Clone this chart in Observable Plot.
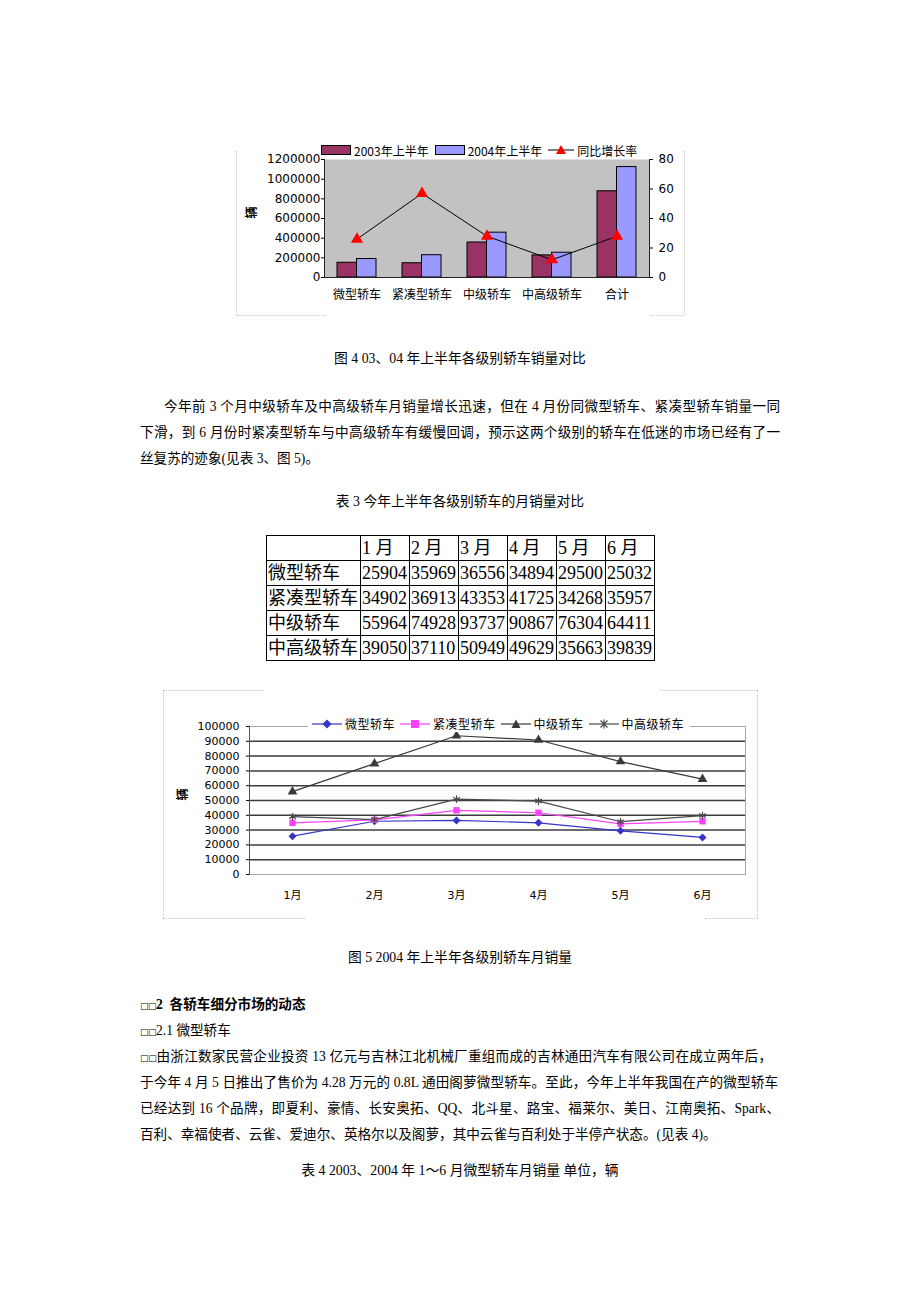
<!DOCTYPE html>
<html><head><meta charset="utf-8">
<script src="https://cdn.jsdelivr.net/npm/d3@7"></script>
<script src="https://cdn.jsdelivr.net/npm/@observablehq/plot@0.6"></script>
<style>
html,body{margin:0;padding:0;background:#fff;}
body{width:920px;height:1302px;position:relative;overflow:hidden;font-family:"Liberation Serif","Noto Sans CJK SC",serif;font-size:14px;color:#000;}
.abs{position:absolute;}
.cap{position:absolute;left:0;width:920px;text-align:center;line-height:20px;white-space:nowrap;font-size:13.8px;}
.ln{position:absolute;left:140px;width:640px;white-space:nowrap;text-align:justify;text-align-last:justify;line-height:20px;font-size:13.6px;}
.ln.last{text-align-last:left;}
.bx{font-family:"DejaVu Sans",sans-serif;font-size:9px;letter-spacing:-0.5px;}
.dotv{position:absolute;width:0;border-left:1px dotted #c4c4c4;}
.doth{position:absolute;height:0;border-top:1px dotted #c4c4c4;}
table.t3{position:absolute;left:266px;top:535px;border-collapse:collapse;table-layout:fixed;width:388px;font-size:18px;font-family:"Liberation Serif","Noto Sans CJK SC",serif;}
table.t3 td{border:1.5px solid #000;height:24px;line-height:24px;padding:0 0 0 1px;white-space:nowrap;overflow:hidden;}
.leg{position:absolute;display:flex;align-items:center;font-family:"Noto Sans CJK SC","DejaVu Sans",sans-serif;font-size:12px;white-space:nowrap;}
.leg span{display:inline-block;}
.plotwrap svg{overflow:visible;}
</style></head>
<body>
<div class="dotv" style="left:236px;top:151px;height:163px"></div>
<div class="dotv" style="left:684px;top:151px;height:165px"></div>
<div class="doth" style="left:236px;top:315px;width:90px"></div>
<div class="doth" style="left:650px;top:315px;width:35px"></div>
<div id="chart1" class="abs plotwrap" style="left:236px;top:145px"></div>
<div id="legend1" class="leg" style="left:321px;top:142px;height:16px;"></div>

<div class="cap" style="top:349px">图 4 03、04 年上半年各级别轿车销量对比</div>

<div class="ln" style="top:397px;left:164px;width:616px">今年前 3 个月中级轿车及中高级轿车月销量增长迅速，但在 4 月份同微型轿车、紧凑型轿车销量一同</div>
<div class="ln" style="top:423px">下滑，到 6 月份时紧凑型轿车与中高级轿车有缓慢回调，预示这两个级别的轿车在低迷的市场已经有了一</div>
<div class="ln last" style="top:449px">丝复苏的迹象(见表 3、图 5)。</div>

<div class="cap" style="top:492px">表 3 今年上半年各级别轿车的月销量对比</div>
<table class="t3" id="t3"></table>

<div class="dotv" style="left:163px;top:690px;height:228px"></div>
<div class="dotv" style="left:757px;top:690px;height:228px"></div>
<div class="doth" style="left:163px;top:690px;width:100px"></div>
<div class="doth" style="left:660px;top:690px;width:97px"></div>
<div class="doth" style="left:163px;top:918px;width:142px"></div>
<div class="doth" style="left:705px;top:918px;width:52px"></div>
<div id="chart2" class="abs plotwrap" style="left:163px;top:700px"></div>
<div id="legend2" class="leg" style="left:308px;top:715px;height:17px;background:#fff;padding:0 6px 0 4px;"></div>

<div class="cap" style="top:948px">图 5 2004 年上半年各级别轿车月销量</div>

<div class="ln last" style="top:995px;font-weight:bold"><span class="bx">□□</span>2&nbsp; 各轿车细分市场的动态</div>
<div class="ln last" style="top:1021px"><span class="bx">□□</span>2.1 微型轿车</div>
<div class="ln" style="top:1047px;width:632px"><span class="bx">□□</span>由浙江数家民营企业投资 13 亿元与吉林江北机械厂重组而成的吉林通田汽车有限公司在成立两年后，</div>
<div class="ln" style="top:1073px;width:638px">于今年 4 月 5 日推出了售价为 4.28 万元的 0.8L 通田阁萝微型轿车。至此，今年上半年我国在产的微型轿车</div>
<div class="ln" style="top:1099px">已经达到 16 个品牌，即夏利、豪情、长安奥拓、QQ、北斗星、路宝、福莱尔、美日、江南奥拓、Spark、</div>
<div class="ln last" style="top:1125px">百利、幸福使者、云雀、爱迪尔、英格尔以及阁萝，其中云雀与百利处于半停产状态。(见表 4)。</div>

<div class="cap" style="top:1161px">表 4 2003、2004 年 1～6 月微型轿车月销量 单位，辆</div>

<script>
// ---------- Chart 1 data (图4) ----------
const categories1 = ["微型轿车", "紧凑型轿车", "中级轿车", "中高级轿车", "合计"];
const sales2003 = [150000, 145000, 356000, 225000, 877000];
const sales2004 = [188000, 227000, 456000, 252000, 1123000];
const growthRate = [26, 57, 28, 12, 28];
const leftTicks1 = [0, 200000, 400000, 600000, 800000, 1000000, 1200000];
const rightTicks1 = [0, 20, 40, 60, 80];
const seriesNames1 = ["2003年上半年", "2004年上半年", "同比增长率"];

// ---------- Table 3 / Chart 2 data (图5) ----------
const months = ["1月", "2月", "3月", "4月", "5月", "6月"];
const monthHeaders = ["1 月", "2 月", "3 月", "4 月", "5 月", "6 月"];
const classNames = ["微型轿车", "紧凑型轿车", "中级轿车", "中高级轿车"];
const microCar = [25904, 35969, 36556, 34894, 29500, 25032];
const compactCar = [34902, 36913, 43353, 41725, 34268, 35957];
const midCar = [55964, 74928, 93737, 90867, 76304, 64411];
const upperMidCar = [39050, 37110, 50949, 49629, 35663, 39839];
const yTicks2 = [0, 10000, 20000, 30000, 40000, 50000, 60000, 70000, 80000, 90000, 100000];

// ---------- Chart 1 ----------
const rows1 = categories1.map((c, i) => ({c, a: sales2003[i], b: sales2004[i], r: growthRate[i]}));
const k = leftTicks1[leftTicks1.length - 1] / rightTicks1[rightTicks1.length - 1];
const col2003 = "#993366", col2004 = "#9999ff";

const chart1 = Plot.plot({
  width: 450, height: 172,
  marginLeft: 88, marginRight: 37, marginTop: 14, marginBottom: 40,
  style: {fontFamily: "DejaVu Sans, Noto Sans CJK SC, sans-serif", fontSize: "12px", color: "#000", background: "transparent", overflow: "visible"},
  x: {type: "band", domain: categories1, padding: 0},
  y: {domain: [0, 1200000]},
  marks: [
    Plot.frame({fill: "#c2c2c2", stroke: null}),
    Plot.barY(rows1, {x: "c", y: "a", fill: col2003, stroke: "#000", strokeWidth: 1, insetLeft: 13, insetRight: 32.5}),
    Plot.barY(rows1, {x: "c", y: "b", fill: col2004, stroke: "#000", strokeWidth: 1, insetLeft: 32.5, insetRight: 13}),
    Plot.frame({anchor: "left", stroke: "#222"}),
    Plot.frame({anchor: "right", stroke: "#222"}),
    Plot.frame({anchor: "bottom", stroke: "#222"}),
    Plot.line(rows1, {x: "c", y: d => d.r * k, stroke: "#000", strokeWidth: 1}),
    Plot.dot(rows1, {x: "c", y: d => d.r * k, symbol: "triangle", fill: "#ff0000", stroke: "none", r: 4.5}),
    Plot.axisY({ticks: leftTicks1, tickFormat: d => String(d), tickSize: 3, tickPadding: 1, fontSize: 12, label: null}),
    Plot.axisY({anchor: "right", ticks: rightTicks1.map(v => v * k), tickFormat: d => String(Math.round(d / k)), tickSize: 3, tickPadding: 6, fontSize: 12, label: null}),
    Plot.axisX({tickSize: 0, tickPadding: 13, fontSize: 12, label: null}),
    Plot.text(["辆"], {frameAnchor: "left", dx: -72, rotate: -90, fontSize: 12, fontWeight: "bold"})
  ]
});
document.getElementById("chart1").appendChild(chart1);

// legend 1
const lg1 = document.getElementById("legend1");
lg1.innerHTML =
  `<svg width="30" height="10" style="margin-right:3px"><rect x="0.5" y="0.5" width="29" height="9" fill="${col2003}" stroke="#000"/></svg><span style="margin-right:6px">${seriesNames1[0]}</span>` +
  `<svg width="30" height="10" style="margin-right:3px"><rect x="0.5" y="0.5" width="29" height="9" fill="${col2004}" stroke="#000"/></svg><span style="margin-right:6px">${seriesNames1[1]}</span>` +
  `<svg width="26" height="12" style="margin-right:3px"><line x1="0" y1="6" x2="26" y2="6" stroke="#000"/><path d="M13,1 L18,10 L8,10 Z" fill="#ff0000"/></svg><span>${seriesNames1[2]}</span>`;

// ---------- Table 3 ----------
const tbl = d3.select("#t3");
const colg = tbl.append("colgroup");
colg.append("col").style("width", "94px");
months.forEach(() => colg.append("col").style("width", "49px"));
const hr = tbl.append("tr");
hr.append("td").text("");
monthHeaders.forEach(m => hr.append("td").text(m));
const tableSeries = [microCar, compactCar, midCar, upperMidCar];
classNames.forEach((name, i) => {
  const tr = tbl.append("tr");
  tr.append("td").text(name);
  tableSeries[i].forEach(v => tr.append("td").text(String(v)));
});

// ---------- Chart 2 ----------
const colors2 = ["#3535c8", "#ff40ff", "#3a3a3a", "#4a4a4a"];
const symbols2 = ["diamond2", "square", "triangle", "asterisk"];
const long2 = [];
tableSeries.forEach((arr, si) => arr.forEach((v, mi) => long2.push({s: classNames[si], m: months[mi], v})));

const chart2 = Plot.plot({
  width: 597, height: 215,
  marginLeft: 86, marginRight: 15, marginTop: 26, marginBottom: 41,
  style: {fontFamily: "DejaVu Sans, Noto Sans CJK SC, sans-serif", fontSize: "11px", color: "#000", background: "transparent", overflow: "visible"},
  x: {type: "band", domain: months, padding: 0},
  y: {domain: [0, 100000]},
  color: {domain: classNames, range: colors2},
  symbol: {domain: classNames, range: symbols2},
  marks: [
    Plot.frame({fill: "#fff", stroke: "#a8a8a8"}),
    Plot.ruleY(yTicks2.slice(1, -1), {stroke: "#3c3c3c", strokeWidth: 1.5}),
    Plot.frame({anchor: "left", stroke: "#555"}),
    Plot.line(long2, {x: "m", y: "v", z: "s", stroke: "s", strokeWidth: 1.2}),
    Plot.dot(long2.filter(d => d.s !== classNames[3]), {x: "m", y: "v", symbol: "s", fill: "s", stroke: "none", r: 3.6}),
    Plot.dot(long2.filter(d => d.s === classNames[3]), {x: "m", y: "v", symbol: "s", stroke: "s", strokeWidth: 1.2, r: 3.6}),
    Plot.axisY({ticks: yTicks2, tickFormat: d => String(d), tickSize: 3, tickPadding: 7, fontSize: 11, label: null}),
    Plot.axisX({tickSize: 0, tickPadding: 17, fontSize: 11, label: null}),
    Plot.text(["辆"], {frameAnchor: "left", dx: -66, rotate: -90, fontSize: 12, fontWeight: "bold"})
  ]
});
document.getElementById("chart2").appendChild(chart2);

// legend 2
const markerSvg = [
  c => `<path d="M15,1.5 L19.5,6 L15,10.5 L10.5,6 Z" fill="${c}"/>`,
  c => `<rect x="11" y="2" width="8" height="8" fill="${c}"/>`,
  c => `<path d="M15,1.5 L19.5,10 L10.5,10 Z" fill="${c}"/>`,
  c => `<path d="M11.5,2.5 L18.5,9.5 M18.5,2.5 L11.5,9.5 M15,1.5 L15,10.5" stroke="${c}" stroke-width="1.2" fill="none"/>`
];
document.getElementById("legend2").innerHTML = classNames.map((n, i) =>
  `<svg width="30" height="12" style="margin-right:3px"><line x1="0" y1="6" x2="30" y2="6" stroke="${colors2[i]}" stroke-width="1.2"/>${markerSvg[i](colors2[i])}</svg><span style="letter-spacing:0.5px;margin-right:${i < 3 ? 5 : 0}px">${n}</span>`
).join("");
</script>
</body></html>
